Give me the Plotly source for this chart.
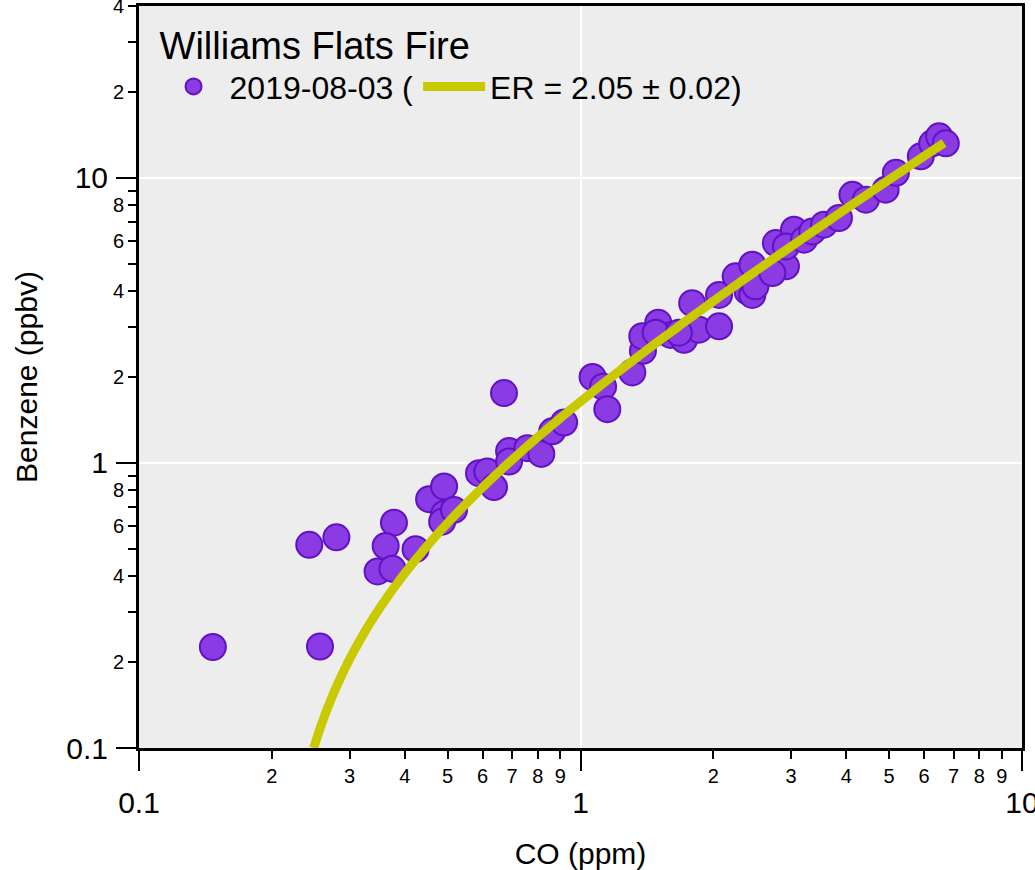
import numpy as np
import plotly.graph_objects as go

# ---- data ----
co_ppm = [0.147, 0.257, 0.243, 0.280, 0.378, 0.362, 0.347, 0.375, 0.423, 0.454,
          0.491, 0.491, 0.486, 0.517, 0.589, 0.615, 0.637, 0.671, 0.689, 0.689,
          0.758, 0.815, 0.863, 0.918, 1.065, 1.125, 1.150, 1.310, 1.385, 1.506,
          1.500, 1.600, 1.716, 1.855, 2.060, 1.790, 2.060, 2.246, 2.450, 2.390,
          2.450, 2.490, 2.770, 2.920, 2.720, 3.045, 2.920, 3.210, 3.350, 3.560,
          3.850, 4.130, 4.430, 4.910, 5.180, 5.900, 6.260, 6.490, 6.720, 1.380,
          1.480, 1.670]
benzene_ppbv = [0.226, 0.227, 0.516, 0.548, 0.617, 0.511, 0.416, 0.425, 0.498, 0.746,
                0.826, 0.662, 0.622, 0.684, 0.920, 0.932, 0.822, 1.757, 1.100, 1.010,
                1.126, 1.075, 1.290, 1.385, 2.000, 1.850, 1.543, 2.075, 2.470, 2.969,
                3.100, 2.810, 2.700, 2.930, 3.010, 3.630, 3.880, 4.510, 4.950, 3.990,
                3.880, 4.160, 5.900, 4.890, 4.630, 6.570, 5.740, 6.060, 6.480, 6.840,
                7.220, 8.710, 8.370, 9.080, 10.40, 11.88, 13.20, 13.97, 13.20, 2.780,
                2.860, 2.860]

er_slope = 2.05          # ppbv / ppm
er_intercept = -0.41     # ppbv
fit_y_min, fit_x_max = 0.1, 6.66

series_name = "2019-08-03 ("
fit_name = "ER = 2.05 ± 0.02)"
legend_title = "Williams Flats Fire"

x_major = [0.1, 1, 10]
x_major_text = ["0.1", "1", "10"]
x_minor = [0.2, 0.3, 0.4, 0.5, 0.6, 0.7, 0.8, 0.9, 2, 3, 4, 5, 6, 7, 8, 9]
x_minor_text = ["2", "3", "4", "5", "6", "7", "8", "9"] * 2

y_major = [0.1, 1, 10]
y_major_text = ["0.1", "1", "10"]
y_minor = [0.2, 0.3, 0.4, 0.5, 0.6, 0.7, 0.8, 0.9,
           2, 3, 4, 5, 6, 7, 8, 9, 20, 30, 40]
y_minor_text = ["2", "", "4", "", "6", "", "8", "",
                "2", "", "4", "", "6", "", "8", "", "2", "", "4"]

# ---- styles ----
FONT = "Liberation Sans, Arial, sans-serif"
fill = "#8A3BE3"
edge = "#6012C4"
fit_color = "#C9C900"
bg = "#EDEDED"

# fit line sampled uniformly in log(y) so the steep low end stays smooth
fit_y = np.geomspace(fit_y_min, er_slope * fit_x_max + er_intercept, 600)
fit_x = (fit_y - er_intercept) / er_slope

fig = go.Figure()
fig.add_trace(go.Scatter(
    x=co_ppm, y=benzene_ppbv, mode="markers", name=series_name,
    marker=dict(size=26, color=fill, line=dict(color=edge, width=2)),
))
fig.add_trace(go.Scatter(
    x=fit_x, y=fit_y, mode="lines", name=fit_name,
    line=dict(color=fit_color, width=9, simplify=False),
))
# invisible trace to carry the minor-label axes
fig.add_trace(go.Scatter(x=[0.1], y=[0.1], xaxis="x2", yaxis="y2",
                         mode="markers", marker=dict(opacity=0),
                         showlegend=False, hoverinfo="skip"))

xr = [np.log10(0.1), np.log10(10)]
yr = [np.log10(0.1), np.log10(40)]

fig.update_layout(
    width=1035, height=870,
    margin=dict(l=139, r=13, t=6, b=122, autoexpand=False),
    paper_bgcolor="white", plot_bgcolor=bg,
    font=dict(family=FONT, color="black"),
    showlegend=True,
    legend=dict(
        x=0.021, y=0.995, xanchor="left", yanchor="top",
        orientation="h", bgcolor="rgba(0,0,0,0)",
        font=dict(size=32, family=FONT),
        title=dict(text=legend_title, side="top", font=dict(size=38, family=FONT)),
        itemwidth=62, itemsizing="trace",
        tracegroupgap=0,
    ),
    xaxis=dict(
        type="log", range=xr, tickvals=x_major, ticktext=x_major_text,
        ticks="outside", ticklen=20, tickwidth=2, tickcolor="black",
        tickfont=dict(size=30), ticklabelstandoff=6, automargin=False,
        ticklabeloverflow="allow",
        showline=True, linecolor="black", linewidth=3, mirror=True,
        showgrid=True, gridcolor="white", gridwidth=2, zeroline=False,
        title=dict(text="CO (ppm)", font=dict(size=30), standoff=25),
    ),
    xaxis2=dict(
        type="log", range=xr, overlaying="x", anchor="y", side="bottom",
        tickvals=x_minor, ticktext=x_minor_text, automargin=False,
        ticklabeloverflow="allow",
        ticks="outside", ticklen=10, tickwidth=2, tickcolor="black",
        tickfont=dict(size=20), showline=False, showgrid=False, zeroline=False,
    ),
    yaxis=dict(
        type="log", range=yr, tickvals=y_major, ticktext=y_major_text,
        ticks="outside", ticklen=20, tickwidth=2, tickcolor="black",
        tickfont=dict(size=30), ticklabelstandoff=2, automargin=False,
        ticklabeloverflow="allow",
        showline=True, linecolor="black", linewidth=3, mirror=True,
        showgrid=True, gridcolor="white", gridwidth=2, zeroline=False,
        title=dict(text="Benzene (ppbv)", font=dict(size=30), standoff=20),
    ),
    yaxis2=dict(
        type="log", range=yr, overlaying="y", anchor="x", side="left",
        tickvals=y_minor, ticktext=y_minor_text, automargin=False,
        ticklabeloverflow="allow",
        ticks="outside", ticklen=10, tickwidth=2, tickcolor="black",
        tickfont=dict(size=20), showline=False, showgrid=False, zeroline=False,
    ),
)

fig.write_html("out.html",
               config={"displayModeBar": False},
               post_script="document.body.style.margin='0';document.body.style.overflow='hidden';")
